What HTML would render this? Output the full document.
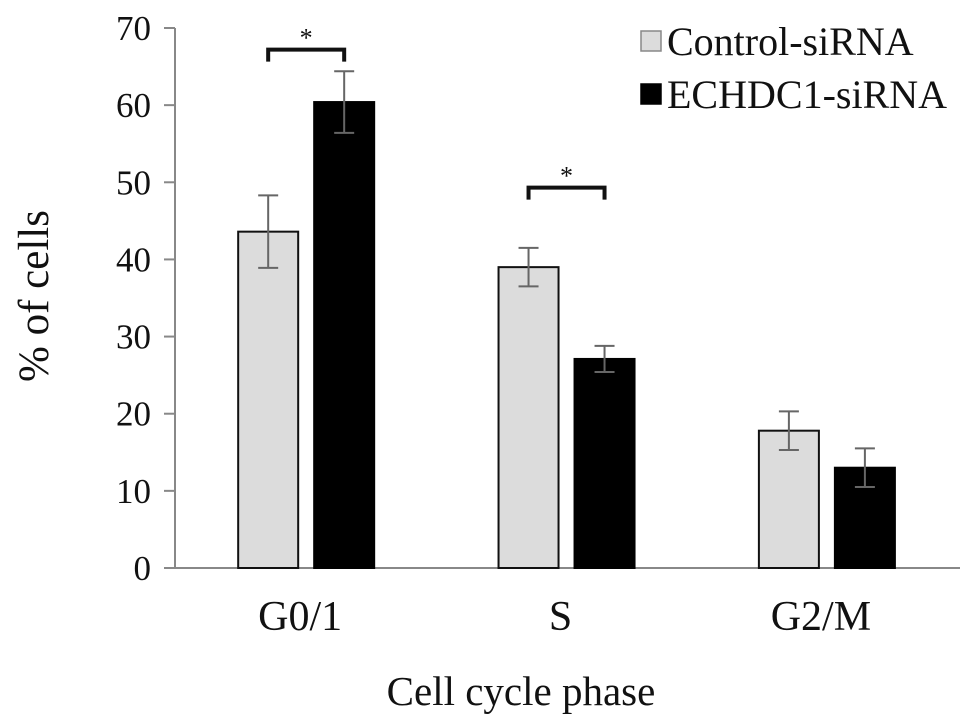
<!DOCTYPE html>
<html><head><meta charset="utf-8"><style>
body{margin:0;background:#fff}
svg{display:block;font-family:"Liberation Serif",serif}
</style></head><body>
<svg id="chart" width="969" height="722"></svg>
<script>
const categories=["G0/1","S","G2/M"];
const seriesNames=["Control-siRNA","ECHDC1-siRNA"];
const controlValues=[43.6,39.0,17.8];
const echdcValues=[60.4,27.1,13.0];
const controlErrors=[4.7,2.5,2.5];
const echdcErrors=[4.0,1.7,2.5];
const yTicks=[0,10,20,30,40,50,60,70];
const sigPairs=[0,1];
const sigLevels=[67.2,49.3];

const NS="http://www.w3.org/2000/svg";
const svg=document.getElementById('chart');
const x0=175,xEnd=960,y0=568,yTop=28,yMax=70;
const y=v=>y0-(v/yMax)*(y0-yTop);
const groupW=(xEnd-x0)/categories.length*0.995;
const cx=i=>x0+groupW*(i+0.5)+1;
const barW=60,gap=16;
function el(tag,attrs,txt){const e=document.createElementNS(NS,tag);for(const k in attrs)e.setAttribute(k,attrs[k]);if(txt!==undefined)e.textContent=txt;svg.appendChild(e);return e;}

let ax=el('line',{x1:x0,y1:yTop,x2:x0,y2:y0,stroke:'#888','stroke-width':2});


yTicks.forEach(t=>{
  const tk=el('line',{x1:x0-11,y1:y(t),x2:x0,y2:y(t),stroke:'#888','stroke-width':2});
  
  
  const lb=el('text',{x:151,y:y(t)+12,'text-anchor':'end','font-size':35,fill:'#111'},String(t));
  
  
});
let xa=el('line',{x1:x0,y1:y0,x2:xEnd,y2:y0,stroke:'#888','stroke-width':2});



categories.forEach((c,i)=>{
  const bx1=cx(i)-gap/2-barW, bx2=cx(i)+gap/2;
  const b1=el('rect',{x:bx1,y:y(controlValues[i]),width:barW,height:y0-y(controlValues[i]),fill:'#dcdcdc',stroke:'#111','stroke-width':2});
  
  
  const b2=el('rect',{x:bx2,y:y(echdcValues[i]),width:barW,height:y0-y(echdcValues[i]),fill:'#000',stroke:'#000','stroke-width':2});
  
  
  [[bx1+barW/2,controlValues[i],controlErrors[i]],[bx2+barW/2,echdcValues[i],echdcErrors[i]]].forEach(([mx,v,e])=>{
    const g=el('path',{d:`M${mx},${y(v+e)}V${y(v-e)}M${mx-10},${y(v+e)}H${mx+10}M${mx-10},${y(v-e)}H${mx+10}`,stroke:'#666','stroke-width':2,fill:'none'});
    
    
  });
  const xl=el('text',{x:cx(i)-6,y:630,'text-anchor':'middle','font-size':42,fill:'#111'},c);
  
  
});

sigPairs.forEach((i,k)=>{
  const l=cx(i)-gap/2-barW/2, r=cx(i)+gap/2+barW/2;
  const by=y(sigLevels[k]);
  const p=el('path',{d:`M${l},${by+12}V${by}H${r}V${by+12}`,stroke:'#111','stroke-width':4,fill:'none'});
  
  
  const s=el('text',{x:(l+r)/2,y:by-3,'text-anchor':'middle','font-size':26,fill:'#111'},'*');
  
  
});

[['#dcdcdc','#888'],['#000','#000']].forEach(([f,s],k)=>{
  const r=el('rect',{x:641,y:31+k*53,width:20,height:20,fill:f,stroke:s,'stroke-width':1.5});
  
  
  const t=el('text',{x:667,y:55+k*53,'font-size':40,fill:'#111'},seriesNames[k]);
  
  
});

const xt=el('text',{x:521,y:705,'text-anchor':'middle','font-size':41,fill:'#111'},'Cell cycle phase');


const yt=el('text',{x:0,y:0,'text-anchor':'middle','font-size':43,fill:'#111',transform:'translate(48,296) rotate(-90)'},'% of cells');


</script>
</body></html>
